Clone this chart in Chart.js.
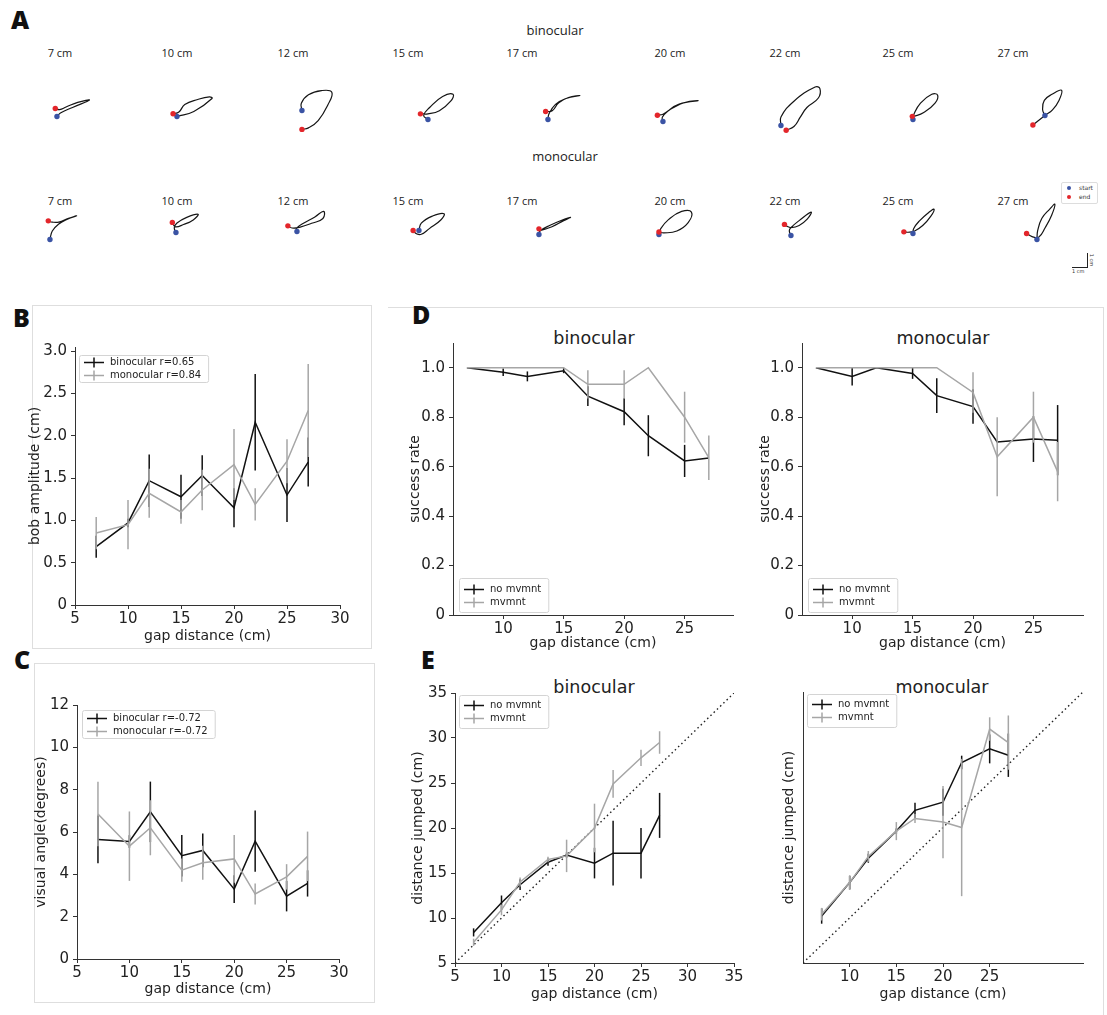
<!DOCTYPE html>
<html>
<head>
<meta charset="utf-8">
<script src="https://cdn.jsdelivr.net/npm/chart.js@4.4.1/dist/chart.umd.min.js"></script>
<style>
  body { margin: 0; background: #fff; }
  #fig { position: relative; width: 1107px; height: 1015px; overflow: hidden; font-family: 'DejaVu Sans', sans-serif; color: #222; }
  canvas { position: absolute; }
  .t { position: absolute; transform: translate(-50%, -50%); white-space: nowrap; }
  .lab { position: absolute; font-family: 'Open Sans', 'Liberation Sans', sans-serif; font-weight: 800; font-size: 25px; color: #111; }
  .cm { font-family: 'Open Sans', sans-serif; font-size: 11px; color: #222; }
  .hd { font-family: 'Open Sans', sans-serif; font-size: 13px; color: #222; }
  .ttl { font-size: 17.5px; color: #222; }
  .box { position: absolute; border: 1px solid #dedede; }
</style>
</head>
<body>
<div id="fig">
  <div class="lab" style="left:11px;top:2px">A</div>
  <div class="t hd" style="left:555px;top:30px">binocular</div>
  <div class="t hd" style="left:565px;top:156px">monocular</div>

  <div class="box" style="left:32px;top:305px;width:338px;height:342px"></div>
  <div class="box" style="left:34px;top:663px;width:339px;height:338px"></div>
  <div class="box" style="left:388px;top:307px;width:715px;height:720px;border-left:none;border-bottom:none"></div>

  <div class="lab" style="left:13px;top:300px">B</div>
  <div class="lab" style="left:14px;top:642px">C</div>
  <div class="lab" style="left:412px;top:297px">D</div>
  <div class="lab" style="left:421px;top:642px">E</div>

  <div class="t ttl" style="left:594px;top:338px">binocular</div>
  <div class="t ttl" style="left:943px;top:338px">monocular</div>
  <div class="t ttl" style="left:594px;top:687px">binocular</div>
  <div class="t ttl" style="left:942px;top:687px">monocular</div>

  <!-- start / end legend and scale bar of panel A -->
  <div style="position:absolute;left:1061px;top:182px;width:35px;height:20px;border:1px solid #ddd;border-radius:2px;font-family:'DejaVu Sans';font-size:6px;color:#333">
    <div style="position:absolute;left:5px;top:3px;width:4px;height:4px;border-radius:50%;background:#3a53a4"></div>
    <div style="position:absolute;left:17px;top:1px">start</div>
    <div style="position:absolute;left:5px;top:12px;width:4px;height:4px;border-radius:50%;background:#e3262b"></div>
    <div style="position:absolute;left:17px;top:10px">end</div>
  </div>
  <div style="position:absolute;left:1072px;top:267px;width:15px;height:1px;background:#222"></div>
  <div style="position:absolute;left:1087px;top:253px;width:1px;height:15px;background:#222"></div>
  <div style="position:absolute;left:1072px;top:268px;font-family:'DejaVu Sans';font-size:5px;color:#333">1 cm</div>
  <div style="position:absolute;left:1086px;top:257px;font-family:'DejaVu Sans';font-size:5px;color:#333;transform:rotate(90deg)">1 cm</div>

  <canvas id="cB"></canvas>
  <canvas id="cC"></canvas>
  <canvas id="cD1"></canvas>
  <canvas id="cD2"></canvas>
  <canvas id="cE1"></canvas>
  <canvas id="cE2"></canvas>
</div>

<script>
// gap distances (cm)
const gaps = [7, 10, 12, 15, 17, 20, 22, 25, 27];
const gapLabels = ['7 cm', '10 cm', '12 cm', '15 cm', '17 cm', '20 cm', '22 cm', '25 cm', '27 cm'];

// A: head trajectories, cm, starting at the start point
const trajBinocular = [
  [[0,0],[0.3,0.3],[1.2,0.72],[2.5,1.3],[1.6,1.12],[0.7,0.75],[0.2,0.55],[-0.13,0.63]],
  [[0,0],[1.3,0.4],[2.7,1.43],[2.5,1.55],[1.6,1.35],[0.6,0.95],[0.15,0.35],[-0.3,0.22]],
  [[0,0],[-0.05,0.58],[0.5,1.25],[1.5,1.58],[2.3,1.45],[2.0,0.45],[1.25,-0.8],[0.5,-1.38],[0,-1.5]],
  [[0,0],[-0.33,0.33],[0.13,0.95],[1.13,1.83],[1.93,2.0],[1.75,1.45],[0.88,0.7],[0,0.45],[-0.58,0.45]],
  [[0,0],[0.08,0.45],[0.58,1.2],[1.33,1.65],[2.45,1.9],[1.58,1.75],[0.83,1.33],[0.33,0.7],[-0.18,0.63]],
  [[0,0],[-0.05,0.33],[0.38,0.83],[1.25,1.38],[2.7,1.65],[1.75,1.53],[0.75,1.08],[0,0.58],[-0.43,0.5]],
  [[0,0],[0,0.68],[1.0,1.93],[2.63,3.05],[3.0,2.93],[2.88,2.18],[2.0,1.43],[1.5,0.68],[1.0,-0.08],[0.4,-0.38]],
  [[0,0],[0.08,0.43],[0.58,1.3],[1.45,2.0],[1.9,1.93],[1.7,1.3],[0.83,0.55],[0.08,0.25],[-0.05,0.25]],
  [[0,0],[-0.18,0.45],[-0.05,1.2],[0.58,1.7],[1.28,2.0],[1.08,1.2],[0.58,0.45],[0,0],[-0.93,-0.75]]
];
const trajMonocular = [
  [[0,0],[0.18,0.68],[0.68,1.23],[1.3,1.6],[2.05,1.88],[1.43,1.68],[0.68,1.38],[0.18,1.38],[-0.13,1.48]],
  [[0,0],[-0.13,0.38],[0.08,0.75],[0.83,1.2],[1.7,1.45],[1.33,1.0],[0.58,0.63],[-0.05,0.45],[-0.28,0.8]],
  [[0,0],[0,0.28],[0.5,0.65],[1.38,1.15],[2.05,1.6],[2.0,1.03],[1.13,0.65],[0.25,0.35],[-0.38,0.28],[-0.7,0.45]],
  [[0,0],[0.18,0.58],[1.05,1.15],[1.93,1.33],[1.68,0.83],[0.8,0.15],[0.18,-0.3],[-0.2,-0.25],[-0.45,0]],
  [[0,0],[0.1,0.3],[0.9,0.75],[1.8,1.15],[2.43,1.36],[1.9,1.1],[1.0,0.62],[0.2,0.35],[0,0.45]],
  [[0,0],[0.13,0.45],[0.75,1.2],[1.75,1.83],[2.5,1.78],[2.25,0.95],[1.38,0.28],[0.38,0.13],[0,0.2]],
  [[0,0],[-0.13,0.38],[0,0.63],[0.63,1.18],[1.55,1.85],[1.25,1.3],[0.63,0.8],[0,0.63],[-0.3,0.73],[-0.5,0.88]],
  [[0,0],[0.05,0.38],[0.5,1.0],[1.25,1.7],[1.63,1.93],[1.38,1.38],[0.75,0.63],[0.13,0.2],[-0.38,0.1],[-0.7,0.13]],
  [[0,0],[0.05,0.68],[0.38,1.68],[1.0,2.43],[1.38,2.8],[1.13,1.93],[0.63,0.93],[0.13,0.18],[-0.38,0.23],[-0.8,0.48]]
];

// B: bob amplitude (cm)
const bobBin = [0.69, 0.97, 1.47, 1.28, 1.53, 1.15, 2.16, 1.30, 1.69];
const bobBinErr = [0.13, 0.05, 0.31, 0.26, 0.24, 0.23, 0.57, 0.32, 0.29];
const bobMono = [0.85, 0.95, 1.32, 1.10, 1.36, 1.66, 1.19, 1.70, 2.30];
const bobMonoErr = [0.19, 0.29, 0.29, 0.14, 0.24, 0.42, 0.19, 0.26, 0.55];

// C: visual angle (degrees)
const angBin = [5.65, 5.55, 6.95, 4.88, 5.13, 3.30, 5.57, 2.97, 3.57];
const angBinErr = [1.13, 0.3, 1.43, 0.98, 0.8, 0.66, 1.45, 0.72, 0.62];
const angMono = [6.85, 5.33, 6.20, 4.20, 4.55, 4.73, 3.07, 3.88, 4.85];
const angMonoErr = [1.52, 1.64, 1.3, 0.55, 0.8, 1.13, 0.5, 0.6, 1.17];

// D: success rate
const succBinNo = [1.0, 0.982, 0.965, 0.988, 0.885, 0.822, 0.725, 0.623, 0.635];
const succBinNoErr = [0, 0.015, 0.02, 0.01, 0.04, 0.055, 0.083, 0.065, 0];
const succBinMv = [1.0, 1.0, 1.0, 1.0, 0.933, 0.933, 1.0, 0.80, 0.636];
const succBinMvErr = [0, 0, 0, 0, 0.057, 0.057, 0, 0.103, 0.09];
const succMonoNo = [1.0, 0.965, 1.0, 0.977, 0.887, 0.843, 0.70, 0.712, 0.707];
const succMonoNoErr = [0, 0.037, 0, 0.022, 0.07, 0.07, 0, 0.093, 0.142];
const succMonoMv = [1.0, 1.0, 1.0, 1.0, 1.0, 0.90, 0.64, 0.80, 0.58];
const succMonoMvErr = [0, 0, 0, 0, 0, 0.082, 0.16, 0.103, 0.12];

// E: distance jumped (cm)
const jumpBinNo = [8.4, 11.7, 13.7, 16.2, 17.0, 16.1, 17.2, 17.2, 21.4];
const jumpBinNoErr = [0.45, 0.8, 0.6, 0.4, 0.3, 1.7, 3.6, 2.8, 2.5];
const jumpBinMv = [7.3, 10.9, 14.0, 16.5, 16.9, 20.0, 24.9, 27.8, 29.5];
const jumpBinMvErr = [0.4, 0.6, 0.5, 0.3, 1.8, 2.7, 1.55, 0.9, 1.25];
const jumpMonoNo = [10.2, 13.9, 16.6, 19.6, 21.9, 22.8, 27.2, 28.7, 28.0];
const jumpMonoNoErr = [0.85, 0.75, 0.5, 0.3, 0.85, 1.5, 0.75, 1.6, 2.4];
const jumpMonoMv = [10.4, 13.9, 16.8, 19.6, 21.0, 20.6, 20.0, 30.9, 29.4];
const jumpMonoMvErr = [0.7, 0.8, 0.6, 1.0, 0.5, 4.0, 7.6, 1.3, 3.0];
const unity = [5, 35];

// tick values
const ticksGap = [5, 10, 15, 20, 25, 30];
const ticksGapD = [10, 15, 20, 25];
const ticksGapE = [5, 10, 15, 20, 25, 30, 35];
const ticksBob = [0, 0.5, 1.0, 1.5, 2.0, 2.5, 3.0];
const ticksAng = [0, 2, 4, 6, 8, 10, 12];
const ticksSucc = [0, 0.2, 0.4, 0.6, 0.8, 1.0];
const ticksJump = [5, 10, 15, 20, 25, 30, 35];

const BLACK = '#111111';
const GRAY = '#a6a6a6';
const BLUE = '#3a53a4';
const RED = '#e3262b';

Chart.defaults.font.family = "'DejaVu Sans', sans-serif";
Chart.defaults.color = '#222';

// vertical error bars, drawn with each dataset so layering follows it
const errorBars = {
  id: 'errorBars',
  afterDatasetDraw(chart, args) {
    const ds = chart.data.datasets[args.index];
    if (!ds.err) return;
    const x = chart.scales.x, y = chart.scales.y, ctx = chart.ctx;
    ctx.save();
    ctx.strokeStyle = ds.borderColor;
    ctx.lineWidth = ds.borderWidth;
    ds.data.forEach((p, i) => {
      const e = ds.err[i];
      if (!e) return;
      const px = x.getPixelForValue(p.x);
      ctx.beginPath();
      ctx.moveTo(px, y.getPixelForValue(p.y - e));
      ctx.lineTo(px, y.getPixelForValue(p.y + e));
      ctx.stroke();
    });
    ctx.restore();
  }
};

// matplotlib-like legend with errorbar handles
const mplLegend = {
  id: 'mplLegend',
  afterDraw(chart, args, o) {
    if (!o.items) return;
    const ctx = chart.ctx, a = chart.chartArea;
    ctx.save();
    ctx.font = "10px 'DejaVu Sans'";
    const tw = Math.max(...o.items.map(it => ctx.measureText(it.label).width));
    const w = 33 + tw + 5, h = o.h;
    const x = a.left + o.dx;
    const y = o.bottom ? a.bottom - o.dy - h : a.top + o.dy;
    ctx.fillStyle = 'rgba(255,255,255,0.8)';
    ctx.strokeStyle = '#d4d4d4';
    ctx.lineWidth = 1;
    ctx.beginPath();
    ctx.roundRect(x + 0.5, y + 0.5, w, h, 2);
    ctx.fill();
    ctx.stroke();
    const n = o.items.length;
    o.items.forEach((it, i) => {
      const cy = Math.round(y + h / 2 + (i - (n - 1) / 2) * 13) + 0.5;
      ctx.strokeStyle = it.color;
      ctx.lineWidth = 1.5;
      ctx.beginPath();
      ctx.moveTo(x + 5, cy); ctx.lineTo(x + 25, cy);
      ctx.moveTo(x + 15, cy - 5); ctx.lineTo(x + 15, cy + 5);
      ctx.stroke();
      ctx.fillStyle = '#222';
      ctx.textBaseline = 'middle';
      ctx.fillText(it.label, x + 31, cy);
    });
    ctx.restore();
  }
};

function series(ys, errs, color, order) {
  return {
    data: gaps.map((g, i) => ({ x: g, y: ys[i] })),
    err: errs,
    borderColor: color,
    backgroundColor: color,
    borderWidth: 1.5,
    pointRadius: 0,
    tension: 0,
    fill: false,
    order: order
  };
}

function axis(o) {
  const show = o.ticks.length > 0;
  return {
    type: 'linear',
    min: o.min, max: o.max,
    afterBuildTicks: s => { s.ticks = o.ticks.map(v => ({ value: v })); },
    ticks: { display: show, font: { size: 15 }, color: '#222', padding: o.pad },
    grid: { display: show, drawOnChartArea: false, tickLength: 4, color: '#333' },
    border: { display: true, color: '#333', width: 1 },
    title: { display: true, text: o.title, font: { size: 14 }, color: '#222', padding: 0 },
    afterFit: o.fit
  };
}

// place a chart so its plotting area lands on the given box [l, t, r, b]
function plot(id, area, W, H, x, y, datasets, legend) {
  const P = 16, R = 18;
  const cv = document.getElementById(id);
  const w = area[2] - area[0] + W + R;
  const h = area[3] - area[1] + P + H;
  cv.width = w; cv.height = h;
  cv.style.width = w + 'px'; cv.style.height = h + 'px';
  cv.style.left = (area[0] - W) + 'px';
  cv.style.top = (area[1] - P) + 'px';
  new Chart(cv, {
    type: 'line',
    data: { datasets: datasets },
    options: {
      responsive: false,
      animation: false,
      events: [],
      layout: { padding: { left: 0, top: P, right: R, bottom: 0 } },
      plugins: { legend: { display: false }, tooltip: { enabled: false }, mplLegend: legend },
      scales: {
        x: axis(Object.assign({ title: 'gap distance (cm)', pad: 1, fit: s => { s.height = H; } }, x)),
        y: axis(Object.assign({ pad: 4, fit: s => { s.width = W; } }, y))
      }
    },
    plugins: [errorBars, mplLegend]
  });
}

const legR = (a, b) => [{ label: a, color: BLACK }, { label: b, color: GRAY }];
const legMv = legR('no mvmnt', 'mvmnt');

plot('cB', [75, 347, 340, 605], 48, 40,
  { min: 5, max: 30, ticks: ticksGap },
  { min: 0, max: 3.05, ticks: ticksBob, title: 'bob amplitude (cm)' },
  [series(bobBin, bobBinErr, BLACK, 2), series(bobMono, bobMonoErr, GRAY, 1)],
  { items: legR('binocular r=0.65', 'monocular r=0.84'), dx: 4, dy: 8, h: 27 });

plot('cC', [77, 705, 339, 959], 44, 39,
  { min: 5, max: 30, ticks: ticksGap },
  { min: 0, max: 12, ticks: ticksAng, title: 'visual angle(degrees)' },
  [series(angBin, angBinErr, BLACK, 2), series(angMono, angMonoErr, GRAY, 1)],
  { items: legR('binocular r=-0.72', 'monocular r=-0.72'), dx: 5, dy: 5, h: 28 });

plot('cD1', [453, 343, 733, 615], 46, 37,
  { min: 5.85, max: 29.0, ticks: ticksGapD },
  { min: 0, max: 1.1, ticks: ticksSucc, title: 'success rate' },
  [series(succBinNo, succBinNoErr, BLACK, 2), series(succBinMv, succBinMvErr, GRAY, 1)],
  { items: legMv, dx: 6, dy: 3, h: 34, bottom: true });

plot('cD2', [802, 343, 1083, 615], 45, 37,
  { min: 5.85, max: 29.1, ticks: ticksGapD },
  { min: 0, max: 1.1, ticks: ticksSucc, title: 'success rate' },
  [series(succMonoNo, succMonoNoErr, BLACK, 2), series(succMonoMv, succMonoMvErr, GRAY, 1)],
  { items: legMv, dx: 6, dy: 3, h: 34, bottom: true });

const unityLine = () => ({
  data: unity.map(v => ({ x: v, y: v })),
  borderColor: '#222', borderWidth: 1.4, borderDash: [1.5, 3], pointRadius: 0, order: 3
});

plot('cE1', [455, 693, 734, 963], 45, 40,
  { min: 5, max: 35, ticks: ticksGapE },
  { min: 5, max: 35, ticks: ticksJump, title: 'distance jumped (cm)' },
  [series(jumpBinNo, jumpBinNoErr, BLACK, 2), series(jumpBinMv, jumpBinMvErr, GRAY, 1), unityLine()],
  { items: legMv, dx: 4, dy: 2, h: 33 });

plot('cE2', [803, 692, 1083, 963], 22, 40,
  { min: 5, max: 35, ticks: ticksGapD },
  { min: 5, max: 35, ticks: [], title: 'distance jumped (cm)' },
  [series(jumpMonoNo, jumpMonoNoErr, BLACK, 2), series(jumpMonoMv, jumpMonoMvErr, GRAY, 1), unityLine()],
  { items: legMv, dx: 4, dy: 2, h: 33 });

// A: one small chart per trajectory, 14 px per cm
const cellStartTop = [[55,117],[175,117],[300,111],[426,120],[546,120],[661,122],[779,126],[911,120],[1043,116]];
const cellStartBottom = [[48,240],[174,233],[295,232],[417,231],[537,235],[657,235],[789,236],[911,234],[1035,240]];
const labelX = [60, 177, 293, 408, 522, 670, 785, 898, 1013];

function trajChart(pts, start) {
  const cv = document.createElement('canvas');
  const W = 110, H = 80, PX = 14;
  cv.width = W; cv.height = H;
  cv.style.width = W + 'px'; cv.style.height = H + 'px';
  cv.style.left = (start[0] - 28) + 'px';
  cv.style.top = (start[1] - 45) + 'px';
  document.getElementById('fig').appendChild(cv);
  const xy = pts.map(p => ({ x: p[0], y: p[1] }));
  new Chart(cv, {
    type: 'scatter',
    data: {
      datasets: [
        { data: [xy[xy.length - 1]], pointRadius: 2.7, backgroundColor: RED, borderWidth: 0 },
        { data: [xy[0]], pointRadius: 2.7, backgroundColor: BLUE, borderWidth: 0 },
        { data: xy, showLine: true, borderColor: '#151515', borderWidth: 1.2, pointRadius: 0, tension: 0.45 }
      ]
    },
    options: {
      responsive: false, animation: false, events: [],
      layout: { padding: 0 },
      plugins: { legend: { display: false }, tooltip: { enabled: false } },
      scales: {
        x: { display: false, min: -28 / PX, max: (W - 28) / PX },
        y: { display: false, min: -(H - 45) / PX, max: 45 / PX }
      }
    }
  });
}

function label(text, x, y) {
  const d = document.createElement('div');
  d.className = 't cm';
  d.style.left = x + 'px'; d.style.top = y + 'px';
  d.textContent = text;
  document.getElementById('fig').appendChild(d);
}

gapLabels.forEach((g, i) => {
  label(g, labelX[i], 52);
  label(g, labelX[i], 200);
  trajChart(trajBinocular[i], cellStartTop[i]);
  trajChart(trajMonocular[i], cellStartBottom[i]);
});
</script>
</body>
</html>
